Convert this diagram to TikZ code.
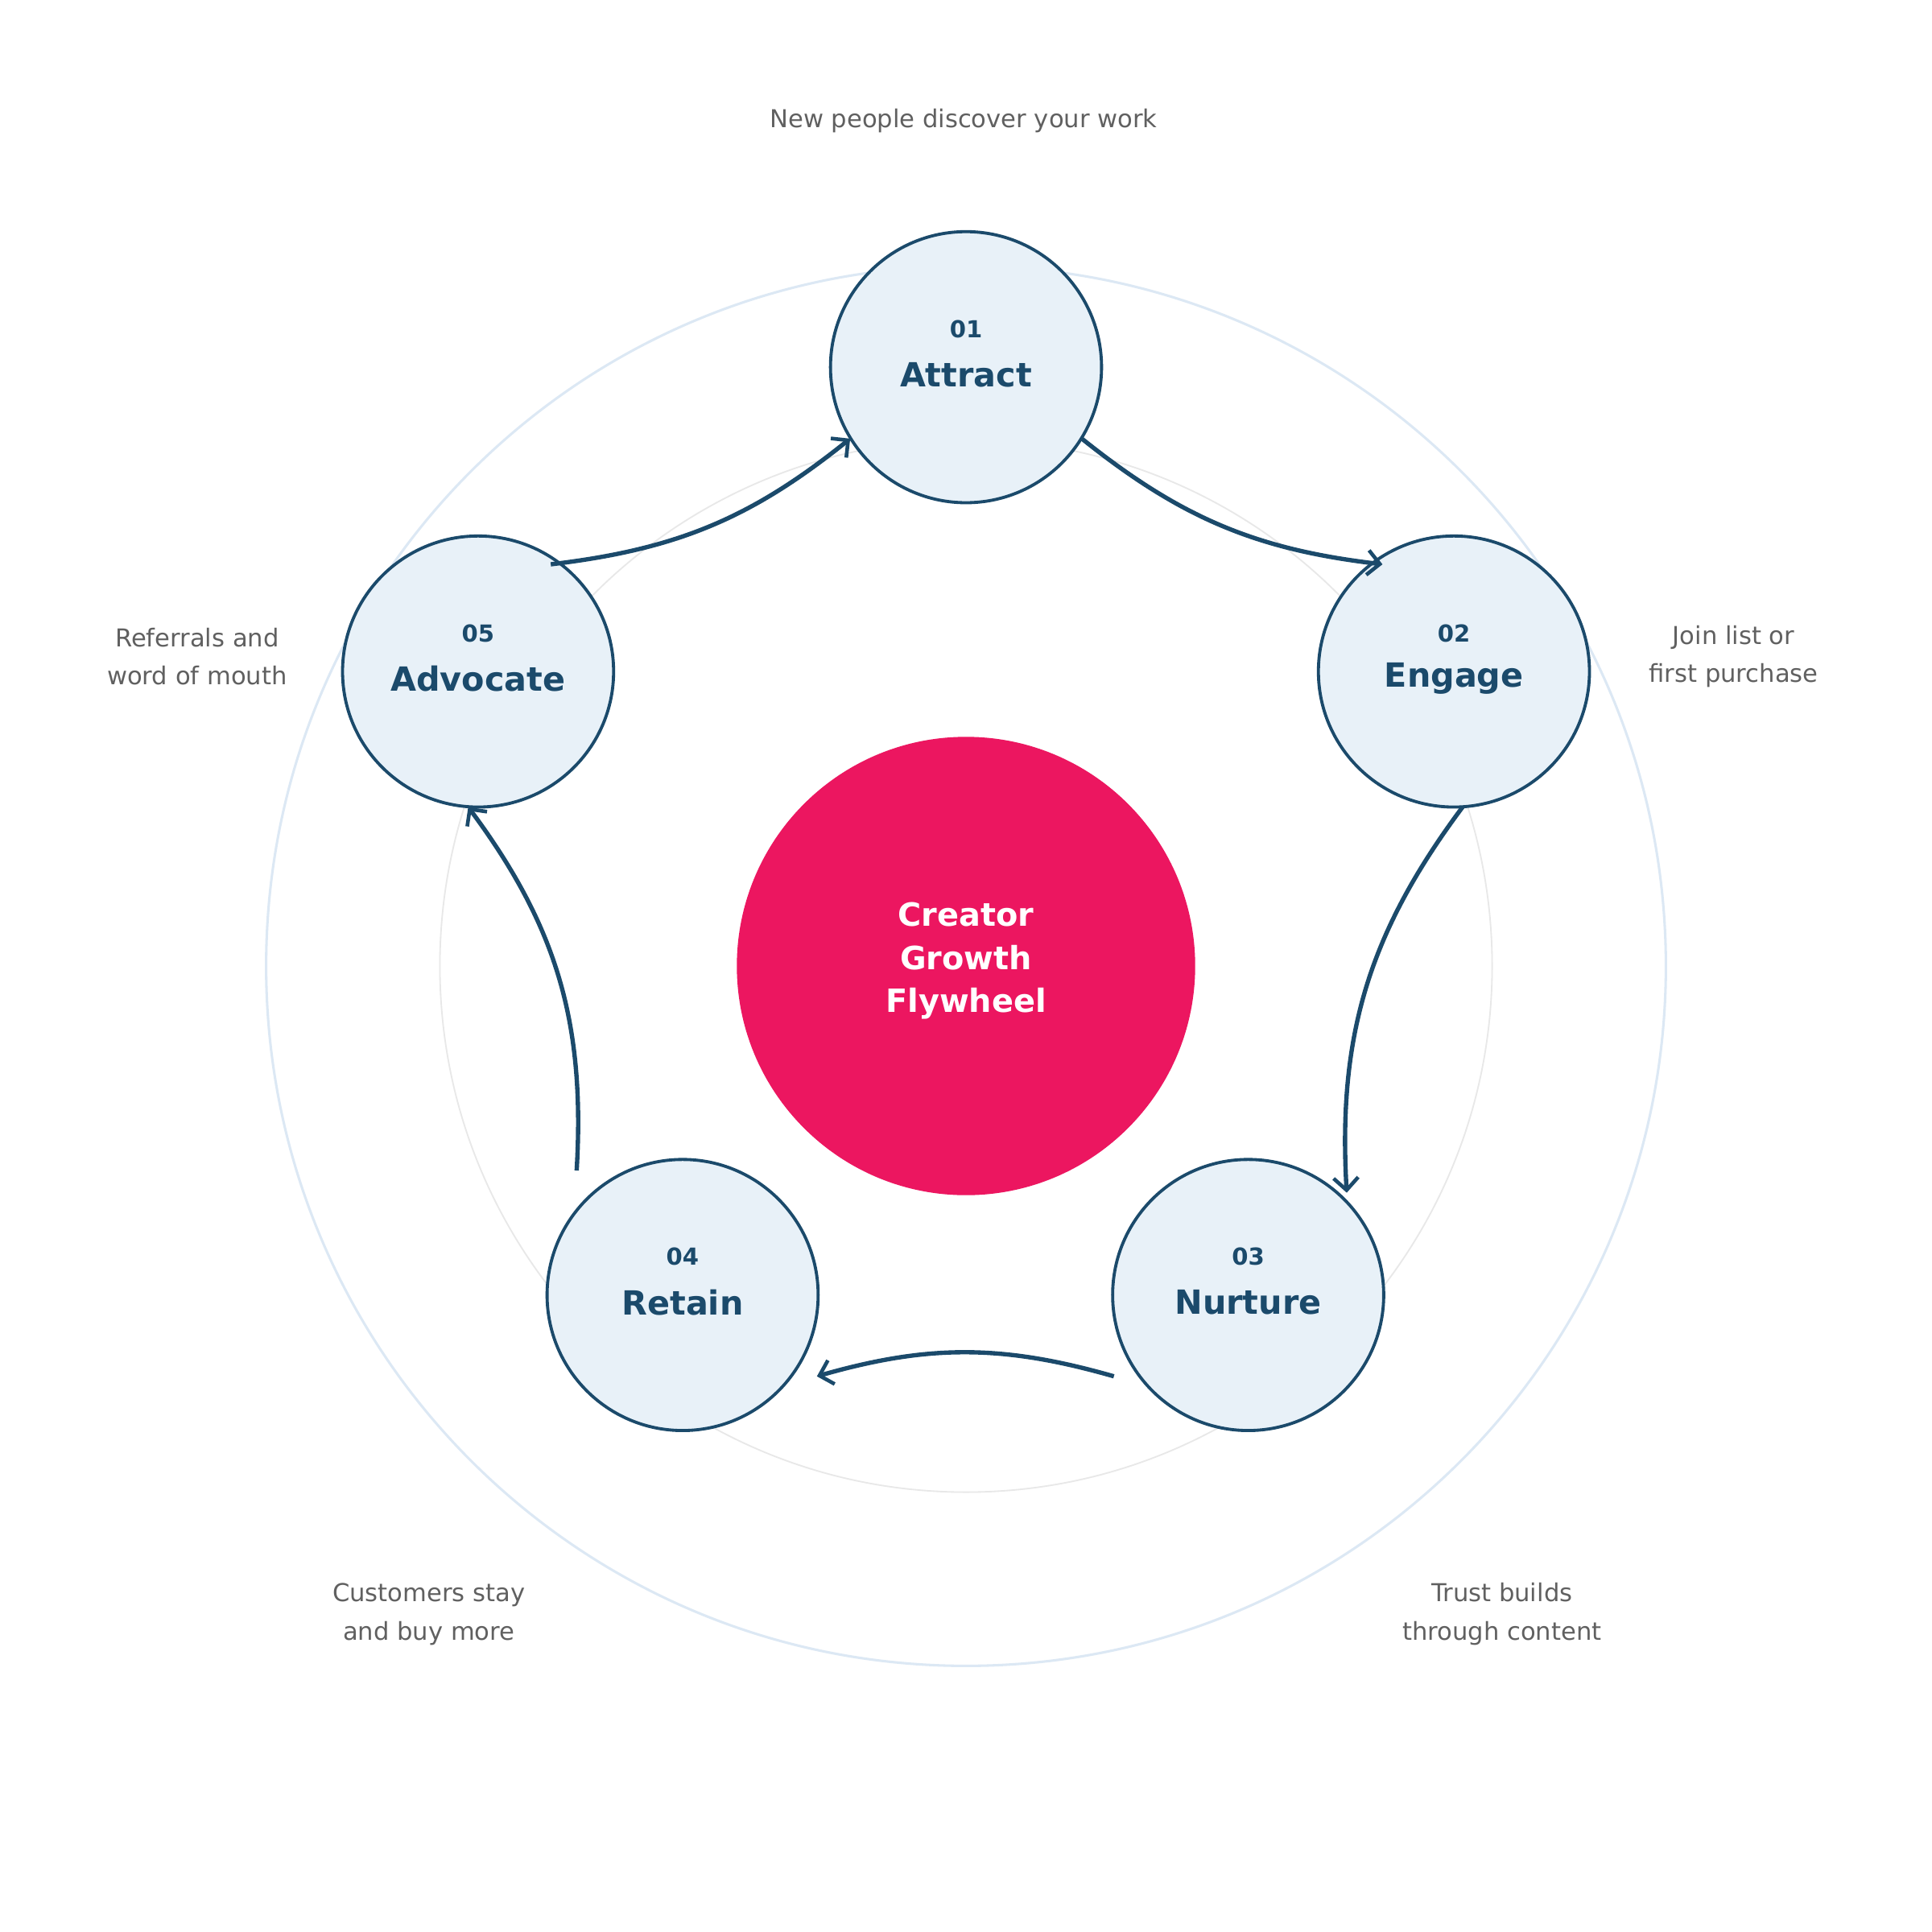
\documentclass[tikz,border=0pt]{standalone}
\usepackage{fontspec}
\setmainfont{DejaVu Sans}
\usetikzlibrary{arrows.meta}
\definecolor{navy}{HTML}{1B4A6B}
\definecolor{pale}{HTML}{E8F1F8}
\definecolor{hot}{HTML}{EC1660}
\definecolor{gtext}{HTML}{606060}
\definecolor{ring1}{HTML}{DCE8F4}
\definecolor{ring2}{HTML}{E8E8E8}
\tikzset{
  stage/.style={circle,draw=navy,fill=pale,line width=2.5pt,minimum size=220pt,inner sep=0pt},
  num/.style={text=navy,font=\bfseries\fontsize{19}{22}\selectfont},
  lbl/.style={text=navy,font=\bfseries\fontsize{27}{32}\selectfont},
  note/.style={text=gtext,align=center,font=\fontsize{20}{31}\selectfont},
  flow/.style={draw=navy,line width=3.5pt,-{Straight Barb[length=10pt,width=20pt,line width=3pt]}}
}
\begin{document}
\begin{tikzpicture}[x=1pt,y=-1pt]
\useasboundingbox (0,0) rectangle (1568,1568);
\fill[white] (0,0) rectangle (1568,1568);
\draw[ring1,line width=2pt] (784,784) circle[radius=568];
\draw[ring2,line width=1.2pt] (784,784) circle[radius=427];
\node[circle,fill=hot,minimum size=372pt,inner sep=0pt] (hub) at (784,784) {};
\node[text=white,align=center,font=\bfseries\fontsize{26}{35}\selectfont] (hubt) at (784,780) {Creator\\Growth\\Flywheel};
\node[stage] (s1) at (784,298) {};
\node[stage] (s2) at (1180,545) {};
\node[stage] (s3) at (1013,1051) {};
\node[stage] (s4) at (554,1051) {};
\node[stage] (s5) at (388,545) {};
\foreach \n/\x/\y/\a/\b in {1/784/298/01/Attract,2/1180/545/02/Engage,3/1013/1051/03/Nurture,4/554/1051/04/Retain,5/388/545/05/Advocate}{
  \node[num] (n\n) at (\x,\y-31) {\a};
  \node[lbl] (l\n) at (\x,\y+6) {\b};
}
\node[note] (t1) at (782,98) {New people discover your work};
\node[note] (t2) at (1407,533) {Join list or\\first purchase};
\node[note] (t3) at (1219,1310) {Trust builds\\through content};
\node[note] (t4) at (348,1310) {Customers stay\\and buy more};
\node[note] (t5) at (160,533) {Referrals and\\word of mouth};
\coordinate (a1) at (878,356); \coordinate (b1) at (1122,458);
\coordinate (a2) at (1187,655); \coordinate (b2) at (1093,968);
\coordinate (a3) at (904,1117); \coordinate (b3) at (663,1117);
\coordinate (a4) at (468,950); \coordinate (b4) at (380,655);
\coordinate (a5) at (447,458); \coordinate (b5) at (690,356);
\draw[flow] (a1) to[bend right=16] (b1);
\draw[flow] (a2) to[bend right=20] (b2);
\draw[flow] (a3) to[bend right=16] (b3);
\draw[flow] (a4) to[bend right=20] (b4);
\draw[flow] (a5) to[bend right=16] (b5);
\end{tikzpicture}
\end{document}
